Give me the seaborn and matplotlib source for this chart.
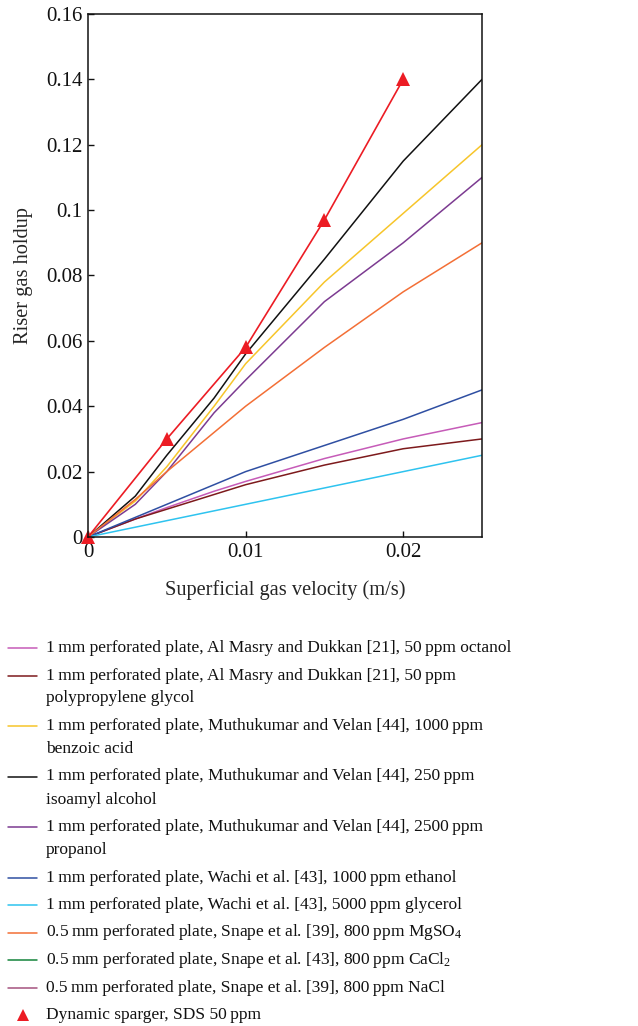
import numpy as np
import pandas as pd
import seaborn as sns
import matplotlib
matplotlib.use("Agg")
import matplotlib.pyplot as plt
from matplotlib.lines import Line2D

# ---- data: superficial gas velocity (m/s) vs riser gas holdup ----
ug_plate = [0.0, 0.003, 0.005, 0.008, 0.010, 0.015, 0.020, 0.025]

octanol_50 = [0.0, 0.0055, 0.0090, 0.0140, 0.0170, 0.0240, 0.0300, 0.0350]
ppg_50 = [0.0, 0.0055, 0.0085, 0.0130, 0.0160, 0.0220, 0.0270, 0.0300]
benzoic_1000 = [0.0, 0.0110, 0.0215, 0.0400, 0.0530, 0.0780, 0.0990, 0.1200]
isoamyl_250 = [0.0, 0.0125, 0.0250, 0.0425, 0.0560, 0.0850, 0.1150, 0.1400]
propanol_2500 = [0.0, 0.0100, 0.0200, 0.0380, 0.0480, 0.0720, 0.0900, 0.1100]
ethanol_1000 = [0.0, 0.0060, 0.0100, 0.0160, 0.0200, 0.0280, 0.0360, 0.0450]
glycerol_5000 = [0.0, 0.0030, 0.0050, 0.0080, 0.0100, 0.0150, 0.0200, 0.0250]
mgso4_800 = [0.0, 0.0115, 0.0200, 0.0320, 0.0400, 0.0580, 0.0750, 0.0900]

ug_sds = [0.0, 0.005, 0.010, 0.015, 0.020]
sds_50 = [0.0, 0.030, 0.058, 0.097, 0.140]

labels = [
    ["1\u2009mm perforated plate, Al Masry and Dukkan [21], 50\u2009ppm octanol"],
    ["1\u2009mm perforated plate, Al Masry and Dukkan [21], 50\u2009ppm",
     "polypropylene glycol"],
    ["1\u2009mm perforated plate, Muthukumar and Velan [44], 1000\u2009ppm",
     "benzoic acid"],
    ["1\u2009mm perforated plate, Muthukumar and Velan [44], 250\u2009ppm",
     "isoamyl alcohol"],
    ["1\u2009mm perforated plate, Muthukumar and Velan [44], 2500\u2009ppm",
     "propanol"],
    ["1\u2009mm perforated plate, Wachi et al. [43], 1000\u2009ppm ethanol"],
    ["1\u2009mm perforated plate, Wachi et al. [43], 5000\u2009ppm glycerol"],
    ["0.5\u2009mm perforated plate, Snape et al. [39], 800\u2009ppm MgSO$_4$"],
    ["0.5\u2009mm perforated plate, Snape et al. [43], 800\u2009ppm CaCl$_2$"],
    ["0.5\u2009mm perforated plate, Snape et al. [39], 800\u2009ppm NaCl"],
    ["Dynamic sparger, SDS 50\u2009ppm"],
]
colors = ["#c65bb8", "#7d1a1c", "#f7c52a", "#111111", "#7c3b91",
          "#2f4fa2", "#2ec3ef", "#f36f36", "#13843a", "#a4527e", "#ec1c24"]
series = [octanol_50, ppg_50, benzoic_1000, isoamyl_250, propanol_2500,
          ethanol_1000, glycerol_5000, mgso4_800, None, None, sds_50]

xticks = [0, 0.01, 0.02]
xtick_labels = ["0", "0.01", "0.02"]
yticks = [0, 0.02, 0.04, 0.06, 0.08, 0.10, 0.12, 0.14, 0.16]
ytick_labels = ["0", "0.02", "0.04", "0.06", "0.08", "0.1", "0.12", "0.14", "0.16"]

# ---- style ----
sns.set_style("ticks")
plt.rcParams["font.family"] = ["Liberation Serif", "DejaVu Serif"]
plt.rcParams["mathtext.fontset"] = "custom"
plt.rcParams["mathtext.rm"] = "Liberation Serif"
plt.rcParams["mathtext.it"] = "Liberation Serif:italic"

W, H = 638, 1026
fig = plt.figure(figsize=(W / 100, H / 100), dpi=100)
ax = fig.add_axes([88 / W, 1 - 537 / H, (482 - 88) / W, (537 - 14) / H])

# plate curves
for yv, c in zip(series[:8], colors[:8]):
    df = pd.DataFrame({"ug": ug_plate, "eps": yv})
    sns.lineplot(data=df, x="ug", y="eps", color=c, lw=1.1, ax=ax,
                 legend=False, sort=False)

# dynamic sparger with SDS
sds_df = pd.DataFrame({"ug": ug_sds, "eps": sds_50})
sns.lineplot(data=sds_df, x="ug", y="eps", color=colors[10], lw=1.2,
             marker="^", markersize=10, markeredgewidth=0, ax=ax,
             legend=False, sort=False, clip_on=False)

ax.set_xlim(0, 0.025)
ax.set_ylim(0, 0.16)
ax.set_xticks(xticks)
ax.set_xticklabels(xtick_labels)
ax.set_yticks(yticks)
ax.set_yticklabels(ytick_labels)
ax.tick_params(direction="in", length=4, width=1, labelsize=15, colors="#111111",
               pad=4)
for s in ax.spines.values():
    s.set_visible(True)
    s.set_linewidth(1.1)
    s.set_color("#111111")
ax.set_xlabel("Superficial gas velocity (m/s)", fontsize=14.7, labelpad=13)
ax.set_ylabel("Riser gas holdup", fontsize=14.7, labelpad=9)

# ---- legend below the axes, handles aligned with the first text line ----
y = 648
for lines, c, yv in zip(labels, colors, series):
    yf = 1 - y / H
    if c == colors[10]:
        fig.add_artist(Line2D([23 / W], [yf], marker="^", color=c,
                              markersize=9, markeredgewidth=0, lw=0))
    else:
        fig.add_artist(Line2D([8 / W, 37 / W], [yf, yf], color=c, lw=1.1))
    for k, t in enumerate(lines):
        fig.text(46 / W, 1 - (y + 23 * k) / H, t, fontsize=12.5,
                 va="center", ha="left", color="#111111")
    y += 23 * (len(lines) - 1) + 27.5

fig.savefig("out.png", dpi=100)
